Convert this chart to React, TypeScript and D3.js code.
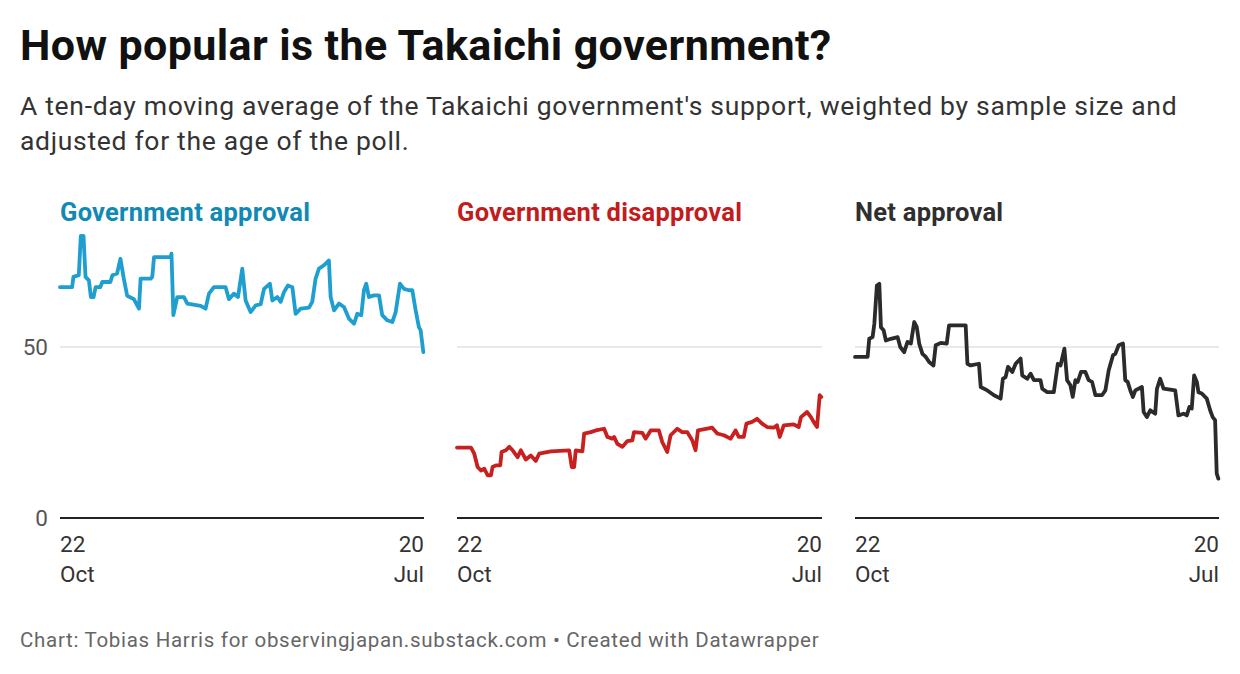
import React from "react";
import * as d3 from "d3";

// [days since 22 Oct, value]
const approval: [number, number][] = [
  [0, 67.5], [9, 67.5], [10, 70.5], [14, 71], [15.5, 82.5], [17.5, 82.5], [19, 70.5],
  [21.5, 69.5], [23, 64.6], [25, 64.6], [26.5, 67.5], [30, 67.5], [31.5, 69], [37.5, 69],
  [39, 71], [42.5, 71.5], [45, 75.8], [47.5, 70], [50, 65], [55, 64], [58.8, 61.2],
  [60, 70], [67.5, 70], [68.7, 70.5], [70, 76.3], [82.4, 76.3], [83, 77.3], [84.4, 59.3],
  [87.3, 64.6], [92.3, 64.6], [94.8, 62.7], [104.7, 62], [108.4, 61.2], [110.9, 65.6],
  [114.6, 67.5], [123.3, 67.5], [125.8, 64], [129.5, 65.6], [132.5, 64.6], [135.7, 72.9],
  [138.2, 63.6], [141.9, 60.2], [145.7, 62.2], [149.4, 62.5], [151.9, 67], [156.3, 68.5],
  [158.1, 63.6], [161.8, 64.6], [164.3, 63.2], [166.7, 66], [169.7, 68], [173, 67.5],
  [175.4, 59.7], [179.2, 61.2], [185.4, 61.5], [187.8, 63.2], [190.3, 70], [192.8, 72.9],
  [196.5, 73.9], [200.2, 75.3], [201.5, 64.6], [204, 60.7], [207.7, 62.7], [211.4, 61.7],
  [215.1, 58.3], [218.9, 56.8], [221.3, 59.7], [224.3, 59.3], [226.3, 66.6], [228, 68.5],
  [230, 64.6], [233.7, 65.1], [237.5, 65.1], [239.9, 59.3], [243.7, 57.8], [247.4, 57.3],
  [249.9, 60.2], [253.1, 68.5], [256.1, 67], [259.8, 66.6], [262.3, 66.6], [264.8, 60.7],
  [267.2, 55.8], [268.5, 54.9], [270.5, 48.5],
];

const disapproval: [number, number][] = [
  [0, 20.6], [10.4, 20.6], [12.8, 18.8], [15.3, 14.9], [17.8, 13.9], [20.3, 14.4],
  [22.7, 12.5], [25.2, 12.5], [26.4, 14.9], [28.9, 15.4], [32.1, 15.4], [33.1, 19.3],
  [36.3, 19.8], [38.8, 20.8], [41.3, 19.8], [45, 17.8], [47.4, 19.8], [51.1, 17.1],
  [54.8, 18.3], [58.5, 16.7], [61, 18.8], [69.7, 19.5], [83.3, 19.8], [85.2, 14.9],
  [87, 14.9], [88.2, 19.8], [93.1, 19.5], [94.4, 24.7], [99.3, 25.1], [103, 25.6],
  [109.2, 26.1], [111.7, 23.7], [115.4, 23.2], [116.6, 23.7], [119.1, 21.7], [122.8, 20.8],
  [126.5, 22.5], [130.2, 22.7], [131.4, 25.1], [137.6, 24.9], [140, 23.2], [143.8, 25.6],
  [149.9, 25.6], [152.4, 22.2], [156.1, 19.3], [158.6, 24.2], [163.5, 26.1], [167.2, 25.1],
  [171, 25.1], [174.7, 22.7], [177.1, 19.8], [178.9, 25.6], [185.8, 26.1], [189.5, 26.4],
  [193.2, 24.7], [198.1, 24.2], [203.1, 23.2], [206.8, 25.6], [209.2, 23.7], [212.9, 23.7],
  [214.9, 27.6], [219.1, 28.1], [222.8, 29], [226.5, 27.6], [230.2, 26.6], [235.2, 26.4],
  [237.6, 27.1], [239.6, 23.7], [242.6, 27.1], [250, 27.4], [253.7, 26.6], [255.4, 29.5],
  [259.9, 31], [262.8, 29.5], [264.8, 28.1], [267.3, 26.6], [269.3, 35.9], [270.5, 35.4],
];

const netApproval: [number, number][] = [
  [0, 47.1], [9.4, 47.1], [10.6, 52.4], [13.1, 52.9], [14.4, 56.8], [16.3, 68], [18.1, 68.5],
  [19.3, 55.8], [21.3, 54.9], [23, 51.9], [26.7, 52.4], [31.7, 52.9], [33.7, 50], [36.6, 48.5],
  [39.1, 51.5], [41.6, 51], [44.1, 57.3], [46, 55.8], [47.8, 51], [50.2, 48], [52.7, 47.1],
  [55.2, 45.6], [58.4, 44.6], [60.1, 50.5], [63.9, 51.2], [68.3, 51], [70, 56.3], [82.4, 56.3],
  [83.7, 45.1], [86.1, 44.6], [92.3, 45.1], [93.6, 38.3], [98.5, 37.3], [103.5, 35.9],
  [108.4, 34.9], [110.1, 40.7], [112.1, 41.2], [113.9, 44.2], [117.1, 42.7], [119.6, 45.1],
  [123.3, 46.6], [124.5, 41.7], [128.2, 40.7], [130.7, 42.2], [133.2, 40.3], [138.1, 40.3],
  [139.4, 37.8], [143.1, 36.8], [148, 36.8], [151, 45.1], [153, 44.6], [155.9, 49.5],
  [157.9, 40.3], [160.4, 38.8], [162.1, 35.4], [164.1, 40.3], [165.8, 39.8], [168.3, 42.7],
  [171.5, 42.7], [174, 40.3], [176.5, 39.8], [179, 35.9], [183.9, 35.9], [186.4, 37.3],
  [188.9, 43.2], [192.1, 47.6], [193.8, 48], [196.3, 50.5], [199.5, 51], [201.2, 40.3],
  [203, 39.8], [205, 37.3], [206.9, 35.4], [208.7, 37.3], [213.6, 38.3], [214.9, 31],
  [217.3, 29.5], [219.8, 31.5], [223.5, 30.5], [224.8, 37.8], [227.2, 40.7], [229.7, 37.8],
  [238.4, 37.3], [240.8, 30], [244.6, 30.5], [247, 30], [249, 32.5], [250.7, 32],
  [252.5, 41.7], [254.5, 39.8], [255.7, 36.8], [258.2, 36.4], [261.9, 34.9], [264.4, 31.5],
  [266.3, 29.5], [268.1, 28.6], [269.3, 13], [270.5, 11.5],
];

const panelTitles = ["Government approval", "Government disapproval", "Net approval"];
const yTicks = [0, 50];
const xTickLabels: [string, string][] = [["22", "Oct"], ["20", "Jul"]];

const startDate = new Date(2025, 9, 22);
const endDate = new Date(2026, 6, 20);
const toDate = (d: number) => new Date(startDate.getTime() + d * 864e5);

const panels = [
  { title: panelTitles[0], data: approval, titleColor: "#1089b5", lineColor: "#1e9fd0", x0: 60, x1: 424, showY: true },
  { title: panelTitles[1], data: disapproval, titleColor: "#c21c1d", lineColor: "#c7201f", x0: 457, x1: 822, showY: false },
  { title: panelTitles[2], data: netApproval, titleColor: "#2f2f2f", lineColor: "#2b2b2b", x0: 855, x1: 1219, showY: false },
];

const font = "Roboto, sans-serif";

export default function App() {
  const y = d3.scaleLinear().domain([0, 50]).range([518, 347]);

  return (
    <svg
      width={1240}
      height={674}
      style={{ position: "absolute", left: 0, top: 0, background: "#fff" }}
      fontFamily={font}
    >
      <text x={20} y={60} fontSize={43} fontWeight={700} fill="#111" letterSpacing={0.4}>
        How popular is the Takaichi government?
      </text>
      <text x={20} y={115} fontSize={26.5} fill="#333" letterSpacing={0.69}>
        A ten-day moving average of the Takaichi government's support, weighted by sample size and
      </text>
      <text x={20} y={150} fontSize={26.5} fill="#333" letterSpacing={0.69}>
        adjusted for the age of the poll.
      </text>

      {panels.map((p, i) => {
        const x = d3.scaleTime().domain([startDate, endDate]).range([p.x0, p.x1]);
        const line = d3
          .line<[number, number]>()
          .x((d) => x(toDate(d[0])))
          .y((d) => y(d[1]))
          .curve(d3.curveLinear);
        return (
          <g key={i}>
            <text x={p.x0} y={221} fontSize={25.5} fontWeight={700} fill={p.titleColor} letterSpacing={0.25}>
              {p.title}
            </text>
            {yTicks.map((t) =>
              t === 0 ? null : (
                <line key={t} x1={p.x0} x2={p.x1} y1={y(t)} y2={y(t)} stroke="#d4d4d4" strokeWidth={1.2} />
              )
            )}
            {p.showY &&
              yTicks.map((t) => (
                <text key={"l" + t} x={48} y={y(t) + 8} fontSize={22.5} textAnchor="end" fill="#555">
                  {t}
                </text>
              ))}
            <path
              d={line(p.data) || ""}
              fill="none"
              stroke={p.lineColor}
              strokeWidth={3.8}
              strokeLinejoin="round"
              strokeLinecap="round"
            />
            <line x1={p.x0} x2={p.x1} y1={y(0)} y2={y(0)} stroke="#222" strokeWidth={2} />
            <text x={p.x0} y={552} fontSize={22.5} fill="#333">{xTickLabels[0][0]}</text>
            <text x={p.x0} y={582} fontSize={22.5} fill="#333">{xTickLabels[0][1]}</text>
            <text x={p.x1} y={552} fontSize={22.5} fill="#333" textAnchor="end">{xTickLabels[1][0]}</text>
            <text x={p.x1} y={582} fontSize={22.5} fill="#333" textAnchor="end">{xTickLabels[1][1]}</text>
          </g>
        );
      })}

      <text x={20} y={647} fontSize={20.5} fill="#666" letterSpacing={0.7}>
        Chart: Tobias Harris for observingjapan.substack.com • Created with Datawrapper
      </text>
    </svg>
  );
}
